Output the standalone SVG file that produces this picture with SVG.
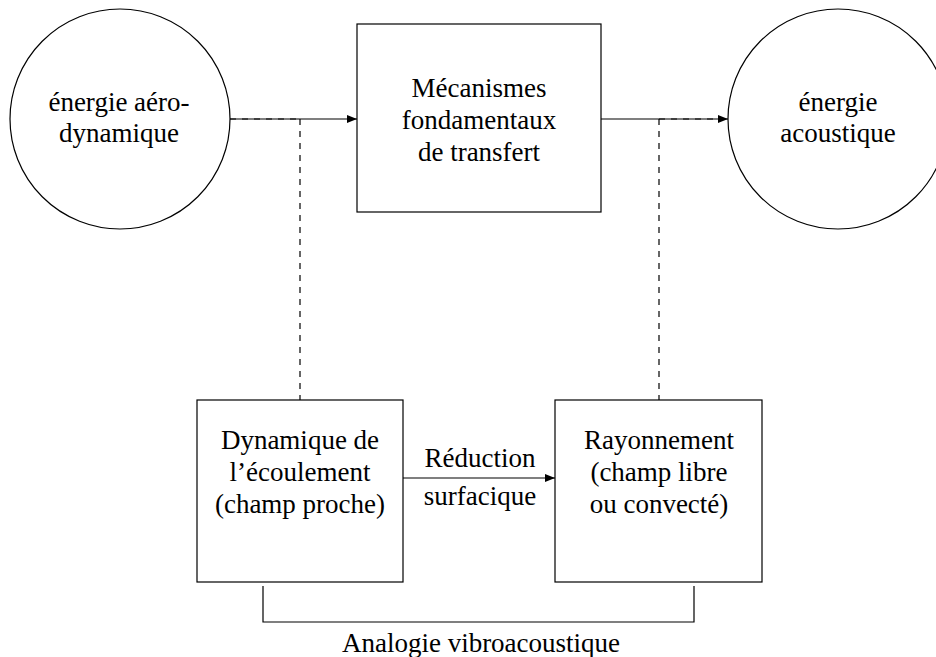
<svg xmlns="http://www.w3.org/2000/svg" width="936" height="657" viewBox="0 0 936 657">
<defs>
<marker id="ah" viewBox="0 0 10 8" refX="10" refY="4" markerWidth="10" markerHeight="8" markerUnits="userSpaceOnUse" orient="auto">
<path d="M0,0 L10,4 L0,8 Z" fill="#000"/>
</marker>
<style>
.shape{fill:#fff;stroke:#000;stroke-width:1.2}
.ln{stroke:#000;stroke-width:1.2;fill:none}
.dash{stroke:#000;stroke-width:1.2;fill:none;stroke-dasharray:6 6}
text{font-family:"Liberation Serif","DejaVu Serif",serif;font-size:27px;fill:#000;text-anchor:middle}
</style>
</defs>
<rect width="936" height="657" fill="#fff"/>
<g id="node-energie-aero">
<circle class="shape" cx="120" cy="119" r="110"/>
<text x="119" y="111">énergie aéro-</text>
<text x="119" y="142">dynamique</text>
</g>
<g id="node-mecanismes">
<rect class="shape" x="357" y="24" width="244" height="188"/>
<text x="479" y="97">Mécanismes</text>
<text x="479" y="129">fondamentaux</text>
<text x="479" y="161">de transfert</text>
</g>
<g id="node-energie-acoustique">
<circle class="shape" cx="838" cy="119" r="110"/>
<text x="838" y="111">énergie</text>
<text x="838" y="142">acoustique</text>
</g>
<g id="node-dynamique">
<rect class="shape" x="197" y="400" width="206" height="182"/>
<text x="300" y="449">Dynamique de</text>
<text x="300" y="481">l’écoulement</text>
<text x="300" y="513">(champ proche)</text>
</g>
<g id="node-rayonnement">
<rect class="shape" x="555" y="400" width="207" height="182"/>
<text x="659" y="449">Rayonnement</text>
<text x="659" y="481">(champ libre</text>
<text x="659" y="513">ou convecté)</text>
</g>
<g id="connectors">
<line class="ln" x1="230" y1="119" x2="357" y2="119" marker-end="url(#ah)"/>
<line class="dash" x1="230" y1="119" x2="300" y2="119"/>
<line class="ln" x1="601" y1="119" x2="728" y2="119" marker-end="url(#ah)"/>
<line class="dash" x1="659" y1="119" x2="718" y2="119"/>
<line class="dash" x1="300" y1="119" x2="300" y2="400"/>
<line class="dash" x1="659" y1="119" x2="659" y2="400"/>
<line class="ln" x1="403" y1="478" x2="555" y2="478" marker-end="url(#ah)"/>
<text x="480" y="467">Réduction</text>
<text x="480" y="505">surfacique</text>
<polyline class="ln" points="263,586 263,622 694,622 694,586"/>
<text x="481" y="652">Analogie vibroacoustique</text>
</g>
</svg>
